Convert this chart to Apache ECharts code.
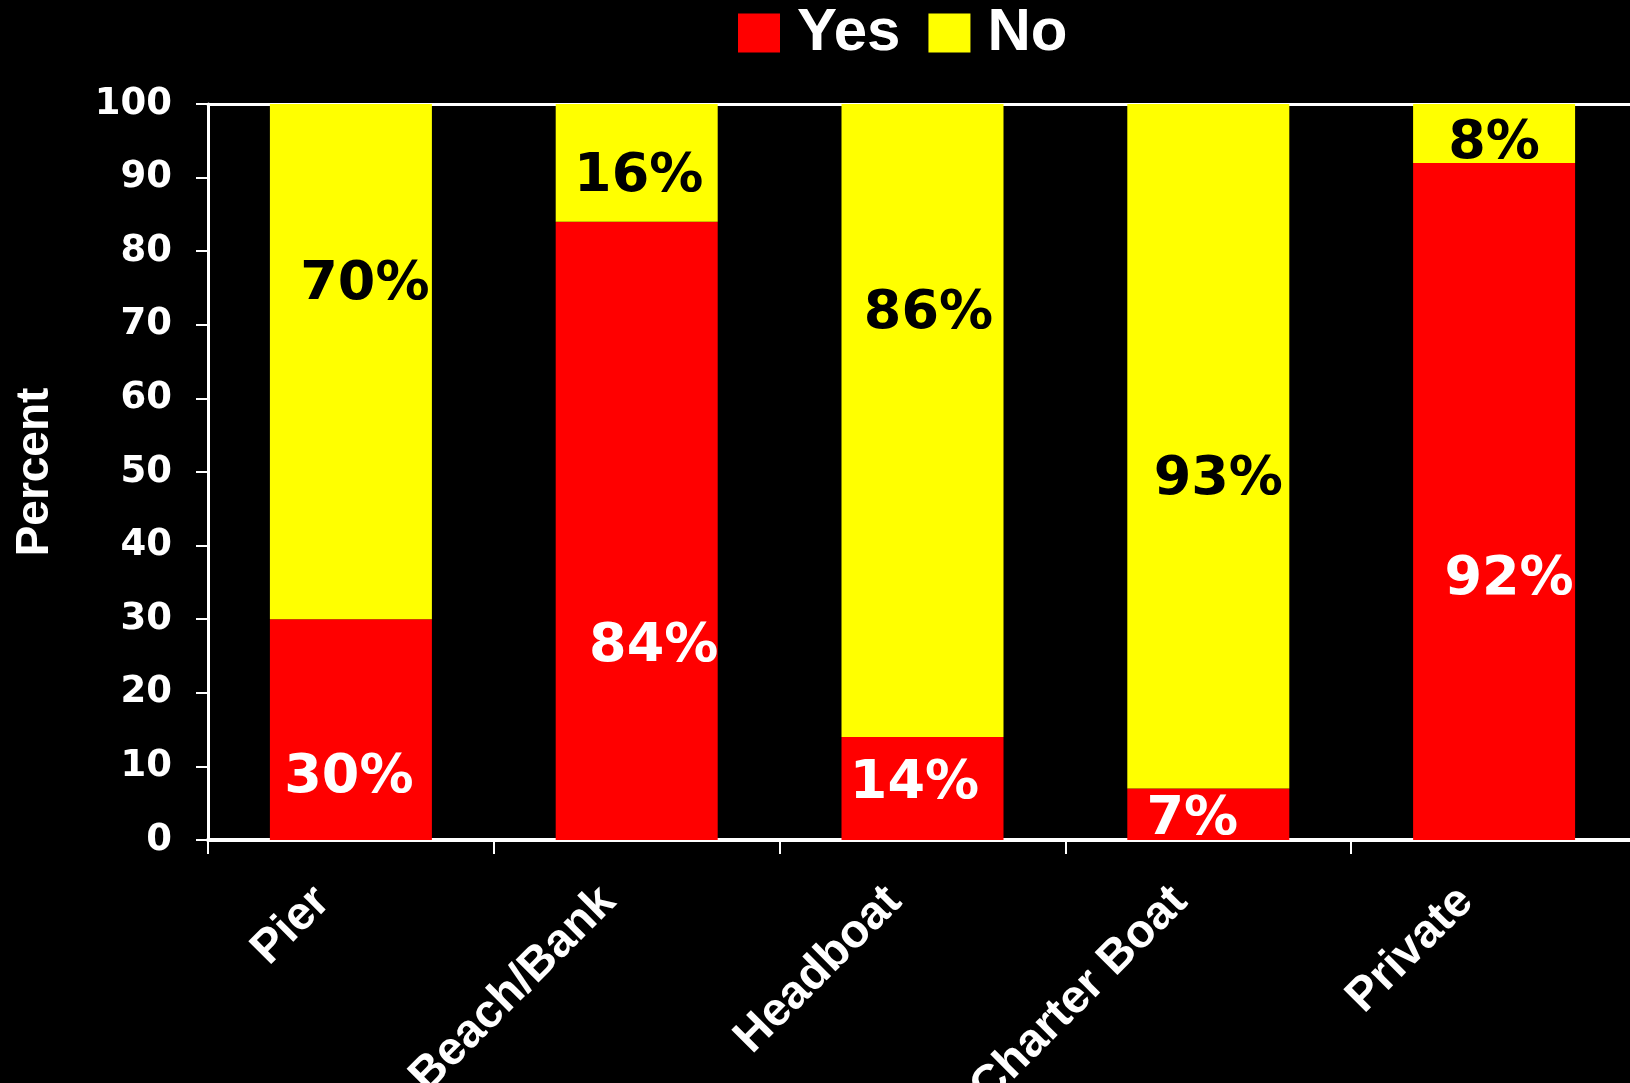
<!DOCTYPE html>
<html>
<head>
<meta charset="utf-8">
<script src="https://cdn.jsdelivr.net/npm/echarts@6/dist/echarts.min.js"></script>
<style>
html,body{margin:0;padding:0;background:#000;}
#chart{width:1630px;height:1083px;}
</style>
</head>
<body>
<div id="chart"></div>
<script>
const categories = ['Pier', 'Beach/Bank', 'Headboat', 'Charter Boat', 'Private'];
const yesValues = [30, 84, 14, 7, 92];
const noValues = [70, 16, 86, 93, 8];
const yTicks = [0, 10, 20, 30, 40, 50, 60, 70, 80, 90, 100];

// label placement tweaks (pixels, relative to bar segment centre)
const yesLabelShift = [[-2, 48], [17, 116], [-8, -5], [-16, 6], [15, 79]];
const noLabelShift = [[14, -77], [2, 14], [6, -107], [10, 34], [0, 11]];

const chart = echarts.init(document.getElementById('chart'));
const labelFont = 'DejaVu Sans';

chart.setOption({
  backgroundColor: '#000000',
  animation: false,
  legend: {
    top: -2,
    left: 733,
    itemWidth: 42,
    itemHeight: 39,
    itemGap: 28,
    icon: 'rect',
    textStyle: { color: '#fff', fontFamily: 'Liberation Sans', fontWeight: 'bold', fontSize: 60, padding: [0, 0, 0, 12] },
    data: ['Yes', 'No']
  },
  grid: { left: 208, right: -7, top: 104, bottom: 243, outerBoundsMode: 'none', containLabel: false },
  xAxis: [{
    type: 'category',
    data: categories,
    axisLine: { lineStyle: { color: '#fff', width: 4 } },
    axisTick: { show: true, length: 14, lineStyle: { color: '#fff', width: 2 } },
    axisLabel: { color: '#fff', fontFamily: 'Liberation Sans', fontWeight: 'bold', fontSize: 47, rotate: 45, margin: 26, padding: [0, 40, 0, 0], interval: 0 }
  }, {
    type: 'category',
    data: categories,
    position: 'top',
    axisLine: { lineStyle: { color: '#fff', width: 3 } },
    axisTick: { show: false },
    axisLabel: { show: false }
  }],
  yAxis: {
    type: 'value',
    min: yTicks[0],
    max: yTicks[yTicks.length - 1],
    interval: 10,
    name: 'Percent',
    nameLocation: 'middle',
    nameGap: 150,
    nameRotate: 90,
    nameTextStyle: { color: '#fff', fontFamily: 'Liberation Sans', fontWeight: 'bold', fontSize: 46, padding: [10, 0, 0, 0] },
    axisLine: { show: true, lineStyle: { color: '#fff', width: 3 } },
    axisTick: { show: true, length: 12, lineStyle: { color: '#fff', width: 2 } },
    axisLabel: { color: '#fff', fontFamily: labelFont, fontWeight: 'bold', fontSize: 37, margin: 36 },
    splitLine: { show: false }
  },
  series: [{
    name: 'Yes',
    type: 'bar',
    stack: 'total',
    barWidth: 162,
    itemStyle: { color: '#FF0000' },
    label: { show: true, position: 'inside', formatter: '{c}%', color: '#fff', fontFamily: labelFont, fontWeight: 'bold', fontSize: 54 },
    data: yesValues.map((v, i) => ({ value: v, label: { offset: yesLabelShift[i] } }))
  }, {
    name: 'No',
    type: 'bar',
    stack: 'total',
    barWidth: 162,
    itemStyle: { color: '#FFFF00' },
    label: { show: true, position: 'inside', formatter: '{c}%', color: '#000', fontFamily: labelFont, fontWeight: 'bold', fontSize: 54 },
    data: noValues.map((v, i) => ({ value: v, label: { offset: noLabelShift[i] } }))
  }]
});
</script>
</body>
</html>
